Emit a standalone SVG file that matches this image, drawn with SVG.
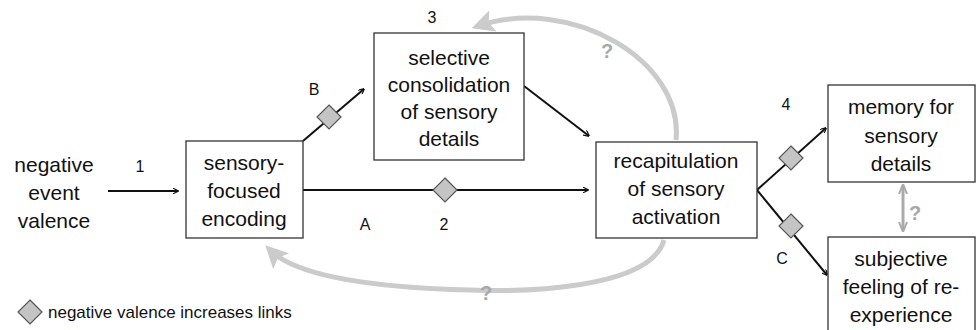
<svg xmlns="http://www.w3.org/2000/svg" width="976" height="330" viewBox="0 0 976 330">
<style>
.box{fill:#fff;stroke:#333;stroke-width:1.3}
.t{font-family:"Liberation Sans",Arial,sans-serif;font-size:21px;fill:#111;text-anchor:middle}
.l{font-family:"Liberation Sans",Arial,sans-serif;font-size:16px;fill:#111;text-anchor:middle}
.ln{stroke:#111;stroke-width:2;fill:none}
.dm{fill:#c4c4c4;stroke:#555;stroke-width:1.2}
.g{stroke:#cbcbcb;stroke-width:5;fill:none}
.q{font-family:"Liberation Sans",Arial,sans-serif;font-size:20px;font-weight:bold;fill:#a8a8a8;text-anchor:middle}
</style>
<defs>
<marker id="ah" viewBox="0 0 10 10" refX="9" refY="5" markerWidth="6" markerHeight="6" orient="auto" markerUnits="userSpaceOnUse">
<path d="M0,0 L10,5 L0,10" fill="none" stroke="#111" stroke-width="2"/>
</marker>
<marker id="gh" viewBox="0 0 10 10" refX="7" refY="5" markerWidth="4.5" markerHeight="4.5" orient="auto">
<path d="M0,0 L10,5 L0,10 L2,5 Z" fill="#cbcbcb"/>
</marker>
<marker id="gh2" viewBox="0 0 10 10" refX="8" refY="5" markerWidth="10" markerHeight="10" orient="auto-start-reverse" markerUnits="userSpaceOnUse">
<path d="M0,1 L10,5 L0,9" fill="none" stroke="#aaa" stroke-width="2"/>
</marker>
</defs>
<g id="connectors">
<path class="g" d="M676,140 C684,60 570,-5 478,26" marker-end="url(#gh)"/>
<path class="g" d="M664,240 C650,290 520,292 470,290 C390,288 300,280 270,250" marker-end="url(#gh)"/>
<line class="ln" x1="108" y1="191" x2="178" y2="191" marker-end="url(#ah)"/>
<line class="ln" x1="303" y1="190" x2="588" y2="190" marker-end="url(#ah)"/>
<line class="ln" x1="303" y1="141" x2="364" y2="89" marker-end="url(#ah)"/>
<line class="ln" x1="524" y1="86" x2="589" y2="136" marker-end="url(#ah)"/>
<line class="ln" x1="757" y1="190" x2="826" y2="128" marker-end="url(#ah)"/>
<line class="ln" x1="757" y1="190" x2="827" y2="275" marker-end="url(#ah)"/>
<line stroke="#aaa" stroke-width="3" x1="903" y1="186" x2="903" y2="230" marker-start="url(#gh2)" marker-end="url(#gh2)"/>
<polygon class="dm" points="329,105 341,117 329,129 317,117"/>
<polygon class="dm" points="445,178 457,190 445,202 433,190"/>
<polygon class="dm" points="791,146 803,158 791,170 779,158"/>
<polygon class="dm" points="791,214 803,226 791,238 779,226"/>
<text class="q" x="607" y="58">?</text>
<text class="q" x="486" y="300">?</text>
<text class="q" x="915" y="220">?</text>
<text class="l" x="140" y="172">1</text>
<text class="l" x="314" y="95">B</text>
<text class="l" x="432" y="23">3</text>
<text class="l" x="365" y="230">A</text>
<text class="l" x="444" y="230">2</text>
<text class="l" x="786" y="110">4</text>
<text class="l" x="782" y="264">C</text>
</g>
<g id="n-negative">
<text class="t" x="54" y="172">negative</text>
<text class="t" x="54" y="200">event</text>
<text class="t" x="54" y="228">valence</text>
</g>
<g id="n-encoding">
<rect class="box" x="186" y="141" width="117" height="97"/>
<text class="t" x="244" y="170">sensory-</text>
<text class="t" x="244" y="198">focused</text>
<text class="t" x="244" y="226">encoding</text>
</g>
<g id="n-consolidation">
<rect class="box" x="374" y="33" width="150" height="127"/>
<text class="t" x="449" y="65">selective</text>
<text class="t" x="449" y="92">consolidation</text>
<text class="t" x="449" y="119">of sensory</text>
<text class="t" x="449" y="146">details</text>
</g>
<g id="n-recap">
<rect class="box" x="596" y="142" width="161" height="96"/>
<text class="t" x="676" y="168">recapitulation</text>
<text class="t" x="676" y="196">of sensory</text>
<text class="t" x="676" y="224">activation</text>
</g>
<g id="n-memory">
<rect class="box" x="828" y="85" width="147" height="97"/>
<text class="t" x="901" y="114">memory for</text>
<text class="t" x="901" y="143">sensory</text>
<text class="t" x="901" y="171">details</text>
</g>
<g id="n-subjective">
<rect class="box" x="828" y="237" width="147" height="100"/>
<text class="t" x="901" y="266">subjective</text>
<text class="t" x="901" y="294">feeling of re-</text>
<text class="t" x="901" y="322">experience</text>
</g>
<g id="legend">
<polygon class="dm" points="30,300 42,312 30,324 18,312"/>
<text x="48" y="318" font-family="Liberation Sans, Arial, sans-serif" font-size="17" fill="#111">negative valence increases links</text>
</g>
</svg>
